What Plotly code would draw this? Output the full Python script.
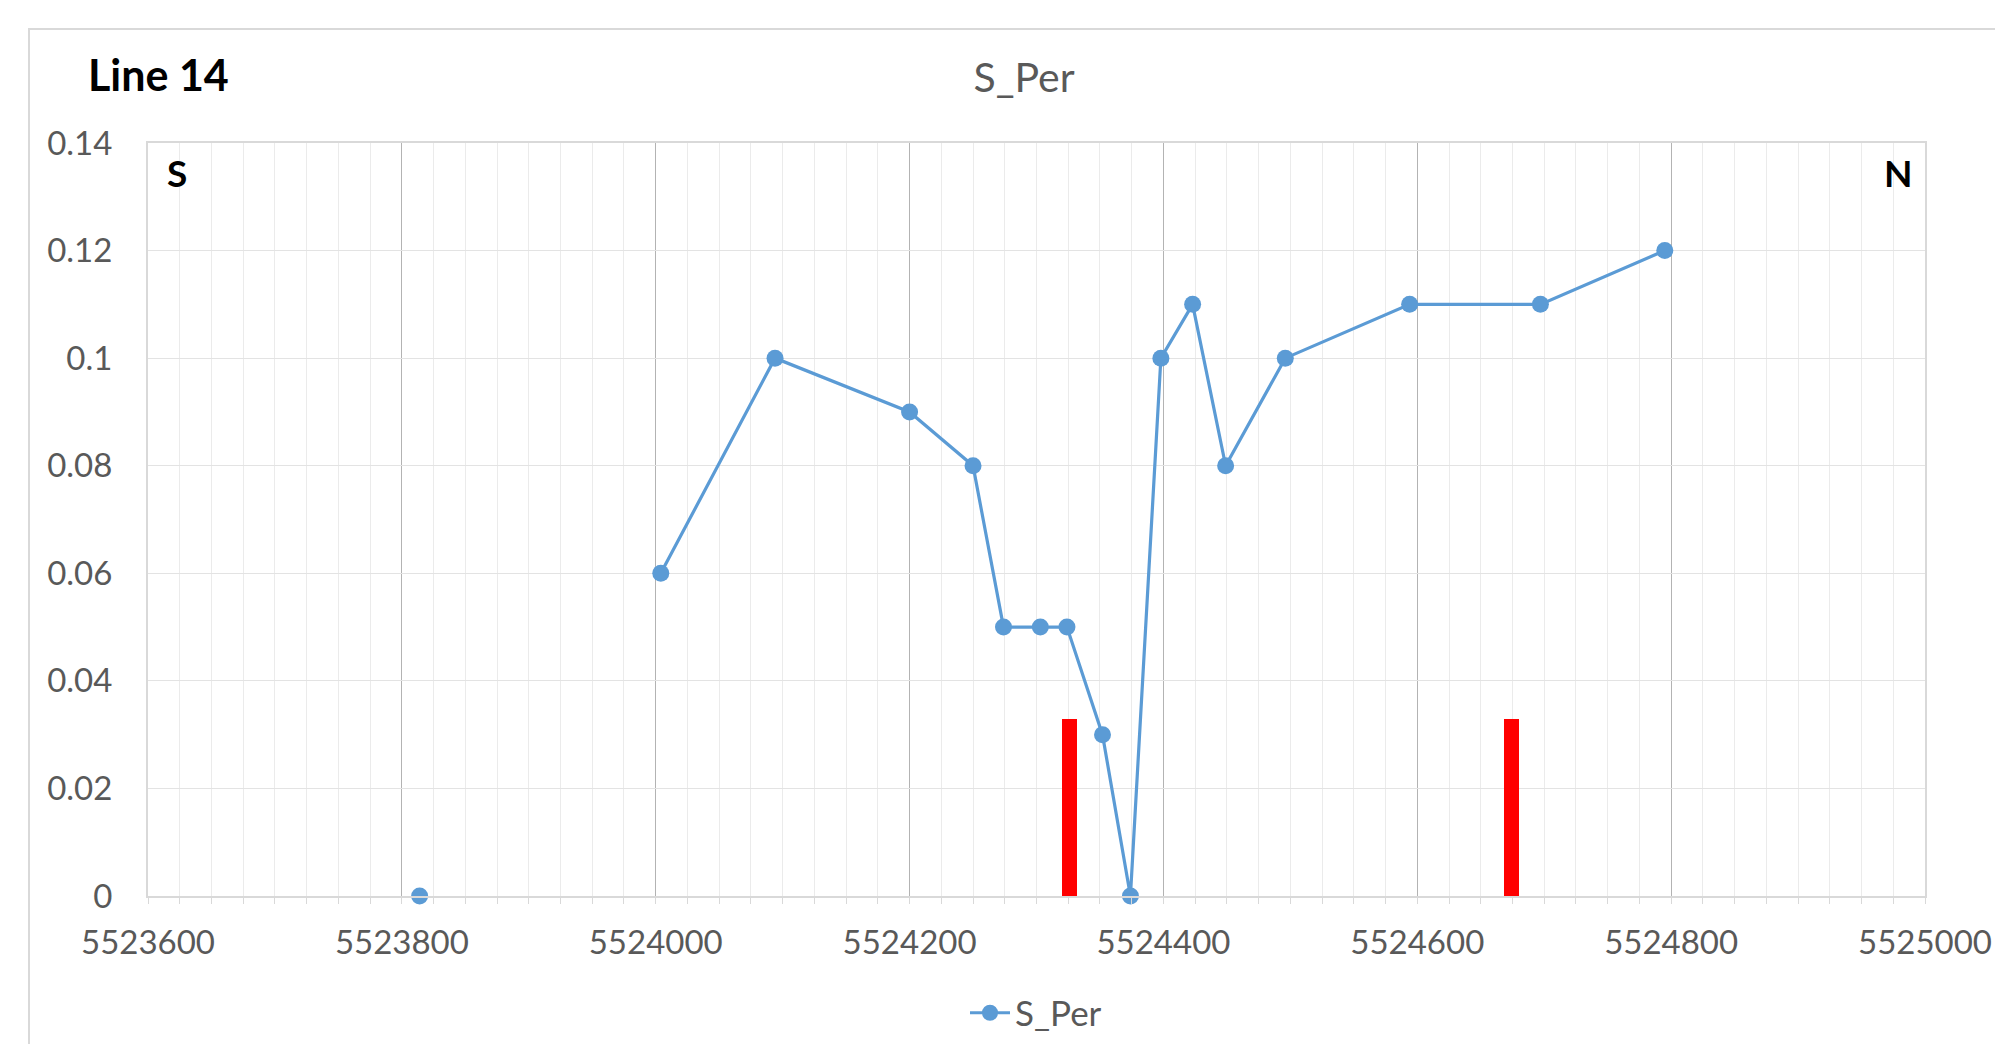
import plotly.graph_objects as go

# data (None = missing reading, breaks the line)
northing = [5523814, 5523900, 5524004, 5524094, 5524200, 5524250, 5524274, 5524303, 5524324,
            5524352, 5524374, 5524398, 5524423, 5524449, 5524496, 5524594, 5524697, 5524795]
s_per = [0.0, None, 0.06, 0.10, 0.09, 0.08, 0.05, 0.05, 0.05,
         0.03, 0.0, 0.10, 0.11, 0.08, 0.10, 0.11, 0.11, 0.12]
marker_x = [5524326, 5524674]
marker_h = [0.033, 0.033]
y_ticks = [0, 0.02, 0.04, 0.06, 0.08, 0.1, 0.12, 0.14]
y_labels = ["0", "0.02", "0.04", "0.06", "0.08", "0.1", "0.12", "0.14"]
x_ticks = [5523600, 5523800, 5524000, 5524200, 5524400, 5524600, 5524800, 5525000]
x_labels = [str(v) for v in x_ticks]

O = 8  # page body margin
W, H = 2003 - O, 1044 - O
# target plot area in page pixels: left 148, right 1925, top 143, bottom 896
L, T = 148 - O, 143 - O
R = W - (1925 - O)
B = H - (896 - O)
pw, ph = W - L - R, H - T - B

def px(x):
    return (x - O - L) / pw

def py(y):
    return 1 - (y - O - T) / ph

FONT = "Lato, Open Sans, sans-serif"
GRAY = "#595959"

fig = go.Figure()
fig.add_trace(go.Bar(x=marker_x, y=marker_h, width=12, marker=dict(color="#ff0000", line=dict(width=0)),
                     showlegend=False, hoverinfo="skip"))
fig.add_trace(go.Scatter(x=northing, y=s_per, mode="lines+markers", name="S_Per",
                         connectgaps=False,
                         line=dict(color="#5b9bd5", width=3.2),
                         marker=dict(color="#5b9bd5", size=17),
                         cliponaxis=False))

fig.update_layout(
    width=W, height=H,
    margin=dict(l=L, r=R, t=T, b=B, autoexpand=False),
    paper_bgcolor="white", plot_bgcolor="white",
    title=dict(text="S_Per", xref="container", yref="container",
               x=(1024 - O) / W, xanchor="center", y=1 - (78 - O) / H, yanchor="middle",
               font=dict(family=FONT, size=41, color=GRAY)),
    showlegend=True,
    legend=dict(orientation="h", x=px(1036), xanchor="center", y=py(1013), yanchor="middle",
                font=dict(family=FONT, size=35, color=GRAY), bgcolor="rgba(0,0,0,0)",
                itemwidth=40),
    bargap=0,
)
fig.update_xaxes(
    range=[5523600, 5525000], tickvals=x_ticks, ticktext=x_labels, automargin=False,
    showgrid=True, gridcolor="#b3b3b3", gridwidth=1.3,
    minor=dict(dtick=25, showgrid=True, gridcolor="#ebebeb", gridwidth=1.3,
               ticks="outside", ticklen=6, tickcolor="#d9d9d9"),
    showline=True, linecolor="#d9d9d9", linewidth=2, mirror=True,
    ticks="", zeroline=False,
    tickfont=dict(family=FONT, size=33, color=GRAY), ticklabelstandoff=16,
)
fig.update_yaxes(
    range=[0, 0.14], tickvals=y_ticks, ticktext=y_labels, automargin=False,
    showgrid=True, gridcolor="#e3e3e3", gridwidth=1.3,
    showline=True, linecolor="#d9d9d9", linewidth=2, mirror=True,
    ticks="", zeroline=False,
    tickfont=dict(family=FONT, size=33, color=GRAY), ticklabelstandoff=27,
)

# chart outer border
fig.add_shape(type="rect", xref="paper", yref="paper",
              x0=px(29), x1=px(2100), y0=py(1100), y1=py(29),
              line=dict(color="#d9d9d9", width=2), fillcolor="rgba(0,0,0,0)", layer="below")

fig.add_annotation(text="<b>Line 14</b>", xref="paper", yref="paper", x=px(86), y=py(74),
                   xanchor="left", yanchor="middle", showarrow=False,
                   font=dict(family=FONT, size=43, color="black"))
fig.add_annotation(text="<b>S</b>", xref="paper", yref="paper", x=px(177), y=py(173),
                   xanchor="center", yanchor="middle", showarrow=False,
                   font=dict(family=FONT, size=37, color="black"))
fig.add_annotation(text="<b>N</b>", xref="paper", yref="paper", x=px(1898), y=py(173),
                   xanchor="center", yanchor="middle", showarrow=False,
                   font=dict(family=FONT, size=37, color="black"))

fig.write_html("out.html")
